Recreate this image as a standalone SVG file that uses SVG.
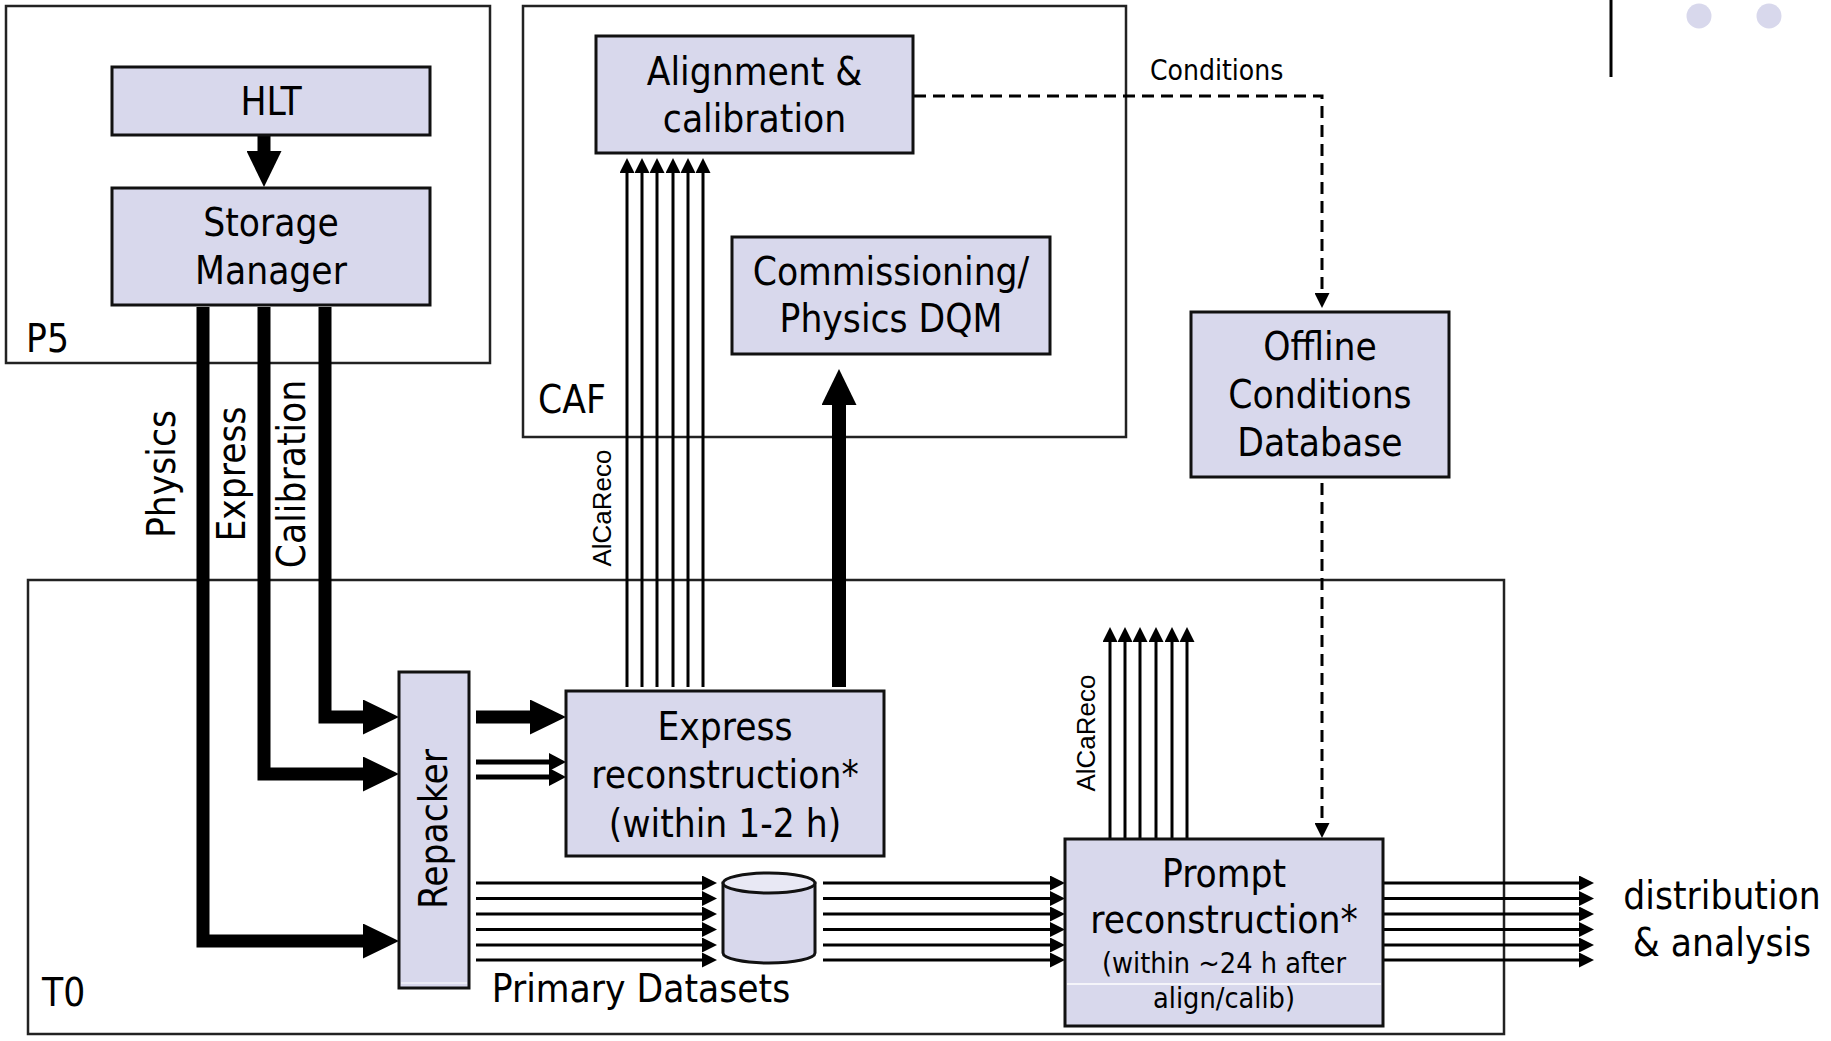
<svg xmlns="http://www.w3.org/2000/svg" width="1831" height="1041" viewBox="0 0 1831 1041">
<style>
.box{fill:#d8d8ec;stroke:#111;stroke-width:3}
.frame{fill:none;stroke:#222;stroke-width:2.5}
.t{font-family:"DejaVu Sans Condensed","DejaVu Sans",sans-serif;font-stretch:condensed;font-size:38.5px;fill:#000;text-anchor:middle}
.s{font-size:28.6px}
.c{font-size:28px}
.st{text-anchor:start}
.al{font-family:"Liberation Sans",Arial,sans-serif;font-size:26px;fill:#000;text-anchor:middle}
.thin{stroke:#000;stroke-width:3;fill:none;marker-end:url(#ah)}
.thick{stroke:#000;stroke-width:13;fill:none;stroke-linejoin:miter;marker-end:url(#ahT)}
.mid{stroke:#000;stroke-width:5;fill:none;marker-end:url(#ahM)}
.dash{stroke:#000;stroke-width:3;fill:none;stroke-dasharray:12 7}
</style>
<defs>
<marker id="ah" viewBox="0 0 15 15" refX="0" refY="7.5" markerWidth="15" markerHeight="15" markerUnits="userSpaceOnUse" orient="auto"><path d="M0,0 L15,7.5 L0,15 z" fill="#000"/></marker>
<marker id="ahT" viewBox="0 0 36 35" refX="0" refY="17.5" markerWidth="36" markerHeight="35" markerUnits="userSpaceOnUse" orient="auto"><path d="M0,0 L36,17.5 L0,35 z" fill="#000"/></marker>
<marker id="ahM" viewBox="0 0 17 18" refX="0" refY="9" markerWidth="17" markerHeight="18" markerUnits="userSpaceOnUse" orient="auto"><path d="M0,0 L17,9 L0,18 z" fill="#000"/></marker>
</defs>
<rect width="1831" height="1041" fill="#fff"/>

<g id="frames">
<rect class="frame" x="6" y="6" width="484" height="357"/>
<text class="t st" x="26" y="352">P5</text>
<rect class="frame" x="523" y="6" width="603" height="431"/>
<text class="t st" x="538" y="413">CAF</text>
<rect class="frame" x="28" y="580" width="1476" height="454"/>
<text class="t st" x="42" y="1006">T0</text>
</g>

<g id="decor">
<line x1="1611" y1="0" x2="1611" y2="77" stroke="#000" stroke-width="3"/>
<circle cx="1699" cy="16" r="12.5" fill="#d8d8ec"/>
<circle cx="1769" cy="16" r="12.5" fill="#d8d8ec"/>
</g>

<g id="connectors">
<path class="thick" d="M264,136 V151"/>
<path class="thick" d="M203,307 V941 H363"/>
<path class="thick" d="M264,307 V774 H363"/>
<path class="thick" d="M325,307 V717 H363"/>
<path class="thick" d="M476,717 H530"/>
<path class="mid" d="M476,762 H549"/>
<path class="mid" d="M476,777 H549"/>
<path class="thick" style="stroke-width:14" d="M839,687 V405"/>
<path class="thin" d="M627,687 V173"/>
<path class="thin" d="M642,687 V173"/>
<path class="thin" d="M657,687 V173"/>
<path class="thin" d="M673,687 V173"/>
<path class="thin" d="M688,687 V173"/>
<path class="thin" d="M703,687 V173"/>
<path class="thin" d="M1110,838 V642"/>
<path class="thin" d="M1125,838 V642"/>
<path class="thin" d="M1140,838 V642"/>
<path class="thin" d="M1156,838 V642"/>
<path class="thin" d="M1172,838 V642"/>
<path class="thin" d="M1187,838 V642"/>
<path class="thin" d="M476,883 H702"/>
<path class="thin" d="M476,898.5 H702"/>
<path class="thin" d="M476,914 H702"/>
<path class="thin" d="M476,929.5 H702"/>
<path class="thin" d="M476,945 H702"/>
<path class="thin" d="M476,960 H702"/>
<path class="thin" d="M823,883 H1050"/>
<path class="thin" d="M823,898.5 H1050"/>
<path class="thin" d="M823,914 H1050"/>
<path class="thin" d="M823,929.5 H1050"/>
<path class="thin" d="M823,945 H1050"/>
<path class="thin" d="M823,960 H1050"/>
<path class="thin" d="M1384,883 H1579"/>
<path class="thin" d="M1384,898.5 H1579"/>
<path class="thin" d="M1384,914 H1579"/>
<path class="thin" d="M1384,929.5 H1579"/>
<path class="thin" d="M1384,945 H1579"/>
<path class="thin" d="M1384,960 H1579"/>
<path class="dash" d="M914,96 H1322 V293" marker-end="url(#ah)"/>
<path class="dash" d="M1322,483 V823" marker-end="url(#ah)"/>
<text class="t c st" x="1150" y="80">Conditions</text>
<text class="al" transform="translate(602,508) rotate(-90)" dy="0.35em">AlCaReco</text>
<text class="al" transform="translate(1086,733) rotate(-90)" dy="0.35em">AlCaReco</text>
<text class="t" transform="translate(162,474) rotate(-90)" dy="0.35em">Physics</text>
<text class="t" transform="translate(232,474) rotate(-90)" dy="0.35em">Express</text>
<text class="t" transform="translate(292,474) rotate(-90)" dy="0.35em">Calibration</text>
<text class="t" x="1722" y="909">distribution</text>
<text class="t" x="1722" y="956">&amp; analysis</text>
</g>

<g id="hlt">
<rect class="box" x="112" y="67" width="318" height="68"/>
<text class="t" x="271" y="115">HLT</text>
</g>
<g id="storage-manager">
<rect class="box" x="112" y="188" width="318" height="117"/>
<text class="t" x="271" y="236">Storage</text>
<text class="t" x="271" y="284">Manager</text>
</g>
<g id="alignment">
<rect class="box" x="596" y="36" width="317" height="117"/>
<text class="t" x="754.5" y="85">Alignment &amp;</text>
<text class="t" x="754.5" y="132">calibration</text>
</g>
<g id="commissioning">
<rect class="box" x="732" y="237" width="318" height="117"/>
<text class="t" x="891" y="285">Commissioning/</text>
<text class="t" x="891" y="332">Physics DQM</text>
</g>
<g id="offline-db">
<rect class="box" x="1191" y="312" width="258" height="165"/>
<text class="t" x="1320" y="360">Offline</text>
<text class="t" x="1320" y="408">Conditions</text>
<text class="t" x="1320" y="456">Database</text>
</g>
<g id="repacker">
<rect class="box" x="399" y="672" width="70" height="316"/>
<line x1="401" y1="983" x2="467" y2="983" stroke="#fff" stroke-width="1.2"/>
<text class="t" transform="translate(434,829) rotate(-90)" dy="0.35em">Repacker</text>
</g>
<g id="express">
<rect class="box" x="566" y="691" width="318" height="165"/>
<text class="t" x="725" y="740">Express</text>
<text class="t" x="725" y="788">reconstruction*</text>
<text class="t" x="725" y="837">(within 1-2 h)</text>
</g>
<g id="primary-datasets">
<path d="M723,883 V953 A46,10 0 0 0 815,953 V883 z" fill="#d8d8ec" stroke="#111" stroke-width="3"/>
<ellipse cx="769" cy="883" rx="46" ry="10" fill="#e8e8f4" stroke="#111" stroke-width="3"/>
<text class="t" x="641" y="1002">Primary Datasets</text>
</g>
<g id="prompt">
<rect class="box" x="1065" y="839" width="318" height="187"/>
<line x1="1067" y1="984" x2="1381" y2="984" stroke="#fff" stroke-width="1.5"/>
<text class="t" x="1224" y="887">Prompt</text>
<text class="t" x="1224" y="933">reconstruction*</text>
<text class="t s" x="1224" y="973">(within ~24 h after</text>
<text class="t s" x="1224" y="1008">align/calib)</text>
</g>
</svg>
